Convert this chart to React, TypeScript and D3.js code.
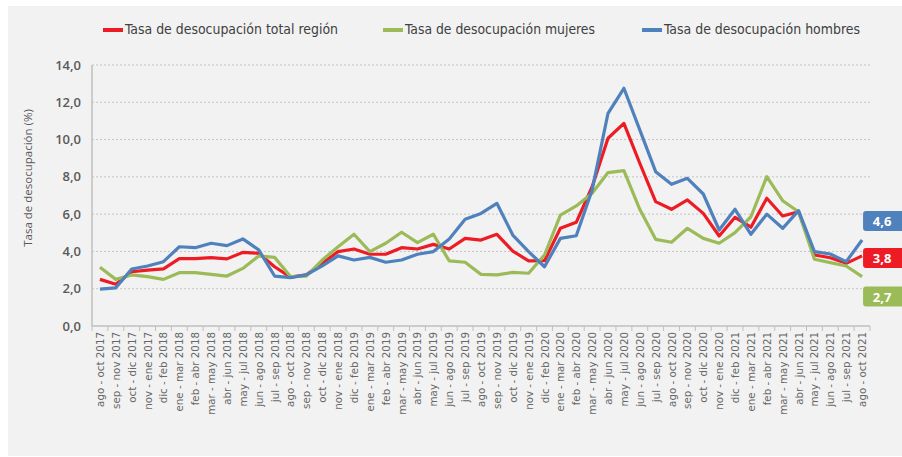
import React from 'react';
import * as d3 from 'd3';

const categories = [
  'ago - oct 2017', 'sep - nov 2017', 'oct - dic 2017', 'nov - ene 2017', 'dic - feb 2018',
  'ene - mar 2018', 'feb - abr 2018', 'mar - may 2018', 'abr - jun 2018', 'may - jul 2018',
  'jun - ago 2018', 'jul - sep 2018', 'ago - oct 2018', 'sep - nov 2018', 'oct - dic 2018',
  'nov - ene 2018', 'dic - feb 2019', 'ene - mar 2019', 'feb - abr 2019', 'mar - may 2019',
  'abr - jun 2019', 'may - jul 2019', 'jun - ago 2019', 'jul - sep 2019', 'ago - oct 2019',
  'sep - nov 2019', 'oct - dic 2019', 'nov - ene 2019', 'dic - feb 2020', 'ene - mar 2020',
  'feb - abr 2020', 'mar - may 2020', 'abr - jun 2020', 'may - jul 2020', 'jun - ago 2020',
  'jul - sep 2020', 'ago - oct 2020', 'sep - nov 2020', 'oct - dic 2020', 'nov - ene 2020',
  'dic - feb 2021', 'ene - mar 2021', 'feb - abr 2021', 'mar - may 2021', 'abr - jun 2021',
  'may - jul 2021', 'jun - ago 2021', 'jul - sep 2021', 'ago - oct 2021',
];

const totalRegion = [
  2.5, 2.24, 2.91, 3.0, 3.06, 3.61, 3.61, 3.67, 3.6, 3.95,
  3.9, 3.18, 2.62, 2.75, 3.36, 3.99, 4.13, 3.85, 3.85, 4.2,
  4.13, 4.38, 4.13, 4.7, 4.61, 4.92, 4.02, 3.49, 3.5, 5.24,
  5.56, 7.47, 10.07, 10.87, 8.73, 6.67, 6.26, 6.76, 6.04, 4.83,
  5.83, 5.3, 6.85, 5.9, 6.13, 3.81, 3.66, 3.36, 3.76,
];

const mujeres = [
  3.15, 2.5, 2.74, 2.65, 2.5, 2.86, 2.86, 2.77, 2.68, 3.09,
  3.76, 3.68, 2.65, 2.68, 3.54, 4.25, 4.92, 3.99, 4.44, 5.03,
  4.47, 4.92, 3.49, 3.42, 2.77, 2.74, 2.88, 2.83, 3.81, 5.95,
  6.44, 7.12, 8.23, 8.33, 6.26, 4.65, 4.49, 5.24, 4.7, 4.44,
  5.01, 5.86, 8.01, 6.72, 6.13, 3.58, 3.4, 3.22, 2.65,
];

const hombres = [
  1.98, 2.05, 3.06, 3.22, 3.45, 4.25, 4.2, 4.44, 4.31, 4.67,
  4.08, 2.68, 2.59, 2.74, 3.22, 3.76, 3.54, 3.68, 3.42, 3.54,
  3.85, 3.99, 4.67, 5.72, 6.04, 6.58, 4.88, 3.99, 3.18, 4.7,
  4.84, 7.3, 11.41, 12.75, 10.52, 8.28, 7.6, 7.92, 7.08, 5.15,
  6.26, 4.92, 6.0, 5.24, 6.19, 3.99, 3.86, 3.45, 4.61,
];

const yTicks = [0, 2, 4, 6, 8, 10, 12, 14];

// last-value badges (label text, vertical nudge so boxes don't collide)
const endLabels = ['4,6', '3,8', '2,7'];

const series = [
  { name: 'Tasa de desocupación total región', values: totalRegion, color: '#ED1C24', badge: endLabels[1], nudge: 2, legendX: 103, legendW: 213 },
  { name: 'Tasa de desocupación mujeres', values: mujeres, color: '#9BBB59', badge: endLabels[2], nudge: 20, legendX: 383, legendW: 190 },
  { name: 'Tasa de desocupación hombres', values: hombres, color: '#4F81BD', badge: endLabels[0], nudge: -19, legendX: 642, legendW: 196 },
];

const W = 902;
const H = 457;
const fmt = (v: number) => v.toFixed(1).replace('.', ',');

export default function App() {
  const x = d3.scaleBand<string>().domain(categories).range([92, 870]);
  const y = d3.scaleLinear().domain([0, 14]).range([326, 65]);
  const bw = x.bandwidth();
  const cx = (c: string) => (x(c) as number) + bw / 2;

  const line = d3.line<number>()
    .x((_, i) => cx(categories[i]))
    .y(d => y(d));

  const last = categories[categories.length - 1];
  const [x0, x1] = x.range();

  return (
    <div style={{ position: 'absolute', left: 0, top: 0 }}>
      <svg width={W} height={H} style={{ display: 'block' }}>
        <rect x={8} y={6} width={W - 8} height={450} fill="#f2f2f2" />

        {/* legend */}
        {series.map(s => (
          <g key={s.name}>
            <line x1={s.legendX} x2={s.legendX + 20} y1={30} y2={30} stroke={s.color} strokeWidth={4} />
            <text x={s.legendX + 22} y={34} fontFamily="'Liberation Sans Narrow', 'DejaVu Sans Condensed', sans-serif"
              fontSize={13.5} fill="#404040" textLength={s.legendW} lengthAdjust="spacingAndGlyphs">{s.name}</text>
          </g>
        ))}

        {/* grid + y labels */}
        {yTicks.map(t => (
          <g key={t}>
            {t > 0 && <line x1={x0} x2={x1} y1={y(t)} y2={y(t)} stroke="#c4c4c4" strokeWidth={1} strokeDasharray="2,2" />}
            <text x={81} y={y(t) + 4.5} textAnchor="end" fontFamily="'Open Sans', sans-serif" fontWeight={600}
              fontSize={13} fill="#595959">{fmt(t)}</text>
          </g>
        ))}

        <text transform={`translate(32,178) rotate(-90)`} textAnchor="middle" fontFamily="'Open Sans', sans-serif"
          fontSize={11.5} fill="#595959">Tasa de desocupación (%)</text>

        {/* axes */}
        <line x1={x0} x2={x0} y1={y(14)} y2={y(0)} stroke="#bfbfbf" strokeWidth={1.5} />
        <line x1={x0} x2={x1} y1={y(0)} y2={y(0)} stroke="#bfbfbf" strokeWidth={1.5} />
        {categories.concat(['__end']).map((c, i) => {
          const px = i < categories.length ? (x(c) as number) : x1;
          return <line key={c} x1={px} x2={px} y1={y(0)} y2={y(0) + 5} stroke="#bfbfbf" strokeWidth={1} />;
        })}
        {categories.map(c => (
          <text key={c} transform={`translate(${cx(c) + 4},332) rotate(-90)`} textAnchor="end"
            fontFamily="'DejaVu Sans', sans-serif" fontSize={10.3} fill="#666666">{c}</text>
        ))}

        {/* series */}
        {series.map(s => (
          <path key={s.name} d={line(s.values) || ''} fill="none" stroke={s.color} strokeWidth={3.2}
            strokeLinejoin="round" />
        ))}

        {/* end badges */}
        {series.map(s => {
          const by = y(s.values[s.values.length - 1]) + s.nudge;
          return (
            <g key={s.badge}>
              <rect x={cx(last) + 1} y={by - 10} width={42} height={20} rx={3} fill={s.color} />
              <text x={cx(last) + 20} y={by + 5} textAnchor="middle" fontFamily="'Open Sans', sans-serif"
                fontWeight={700} fontSize={13} fill="#ffffff">{s.badge}</text>
            </g>
          );
        })}
      </svg>
    </div>
  );
}
